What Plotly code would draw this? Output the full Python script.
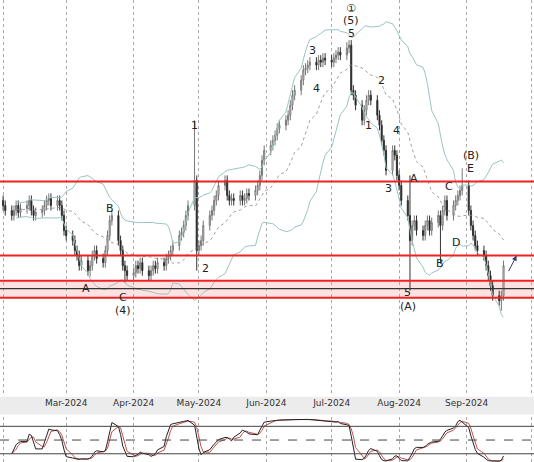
import pandas as pd
import numpy as np
import plotly.graph_objects as go
from plotly.subplots import make_subplots

# daily closes, weekdays from 2024-02-01
closes = [
    195, 190,
    185, 190, 195, 188, 192,
    195, 200, 190, 185, 188,
    190, 195, 200, 202, 195,
    200, 195, 185, 170, 165,
    160, 150, 145, 135, 140,
    130, 135, 145, 150, 142,
    138, 150, 165, 180, 185,
    160, 150, 135, 130, 125,
    128, 135, 132, 138, 130,
    125, 130, 135, 132, 138,
    135, 142, 145, 150, 155,
    165, 168, 175, 185, 195,
    220, 150, 155, 160, 175,
    185, 190, 200, 205, 215,
    220, 205, 200, 202, 200,
    205, 200, 202, 207, 205,
    210, 215, 225, 240, 250,
    255, 260, 265, 272, 275,
    280, 285, 295, 305, 310,
    320, 330, 332, 335, 338,
    335, 340, 338, 342, 340,
    338, 342, 345, 348, 345,
    352, 355, 310, 305, 295,
    280, 290, 300, 305, 300,
    285, 275, 260, 250, 230,
    250, 245, 225, 215, 200,
    185, 160, 175, 180, 170,
    165, 175, 180, 170, 178,
    185, 175, 190, 200, 185,
    195, 200, 205, 210, 215,
    190, 175, 165, 155, 150,
    145, 135, 125, 115, 105,
    100, 105, 135,
]
first_open = 200
# notable wick extremes (date -> price)
spike_highs = {"2024-04-29": 280, "2024-08-06": 225, "2024-08-30": 232, "2024-07-08": 358}
spike_lows = {"2024-04-30": 130, "2024-08-06": 110, "2024-03-12": 124, "2024-03-28": 118,
              "2024-09-17": 90, "2024-08-20": 137}

support_lines = [219, 145, 120, 103]
pivot_line = 112

labels = [
    ("2024-03-10", 112, "A"), ("2024-03-21", 192, "B"), ("2024-03-27", 103, "C"),
    ("2024-03-27", 90, "(4)"), ("2024-04-29", 275, "1"), ("2024-05-04", 132, "2"),
    ("2024-06-22", 350, "3"), ("2024-06-24", 312, "4"), ("2024-07-10", 367, "5"),
    ("2024-07-10", 380, "(5)"), ("2024-07-10", 392, "①"), ("2024-07-24", 320, "2"),
    ("2024-07-18", 275, "1"), ("2024-07-31", 270, "4"), ("2024-07-27", 212, "3"),
    ("2024-08-05", 108, "5"), ("2024-08-05", 94, "(A)"), ("2024-08-08", 222, "A"),
    ("2024-08-20", 137, "B"), ("2024-08-24", 214, "C"), ("2024-08-27", 158, "D"),
    ("2024-09-03", 232, "E"), ("2024-09-03", 245, "(B)"),
]

dates = pd.bdate_range("2024-02-01", periods=len(closes))
df = pd.DataFrame({"close": closes}, index=dates)
df["open"] = df["close"].shift(1).fillna(first_open)
df["high"] = df[["open", "close"]].max(axis=1) + 5
df["low"] = df[["open", "close"]].min(axis=1) - 5
for d, v in spike_highs.items():
    df.loc[d, "high"] = v
for d, v in spike_lows.items():
    df.loc[d, "low"] = v

mid = df["close"].rolling(20, min_periods=5).mean()
sd = df["close"].rolling(20, min_periods=5).std()
upper, lower = mid + 2 * sd, mid - 2 * sd

lo14 = df["low"].rolling(14, min_periods=3).min()
hi14 = df["high"].rolling(14, min_periods=3).max()
k = (100 * (df["close"] - lo14) / (hi14 - lo14)).rolling(3, min_periods=1).mean()
dline = k.rolling(3, min_periods=1).mean()

fig = make_subplots(rows=2, cols=1, shared_xaxes=True)

fig.add_shape(type="rect", xref="paper", yref="paper", x0=0, x1=1, y0=0.103, y1=0.141,
              fillcolor="#ececec", line_width=0, layer="below")
fig.add_shape(type="rect", xref="x domain", x0=0, x1=1, yref="y", y0=support_lines[3], y1=support_lines[2],
              fillcolor="rgba(255,120,120,0.22)", line_width=0, layer="below")
fig.add_trace(go.Scatter(x=dates, y=upper, mode="lines", line=dict(color="#9cc3c3", width=1), hoverinfo="skip"), 1, 1)
fig.add_trace(go.Scatter(x=dates, y=lower, mode="lines", line=dict(color="#9cc3c3", width=1), hoverinfo="skip"), 1, 1)
fig.add_trace(go.Scatter(x=dates, y=mid, mode="lines", line=dict(color="#888", width=0.8, dash="dot"), hoverinfo="skip"), 1, 1)
fig.add_trace(go.Candlestick(
    x=dates, open=df["open"], high=df["high"], low=df["low"], close=df["close"],
    increasing=dict(fillcolor="white", line=dict(color="#777", width=1)),
    decreasing=dict(fillcolor="black", line=dict(color="#333", width=1)),
    whiskerwidth=0), 1, 1)

for v in support_lines:
    fig.add_hline(y=v, line=dict(color="#ee2222", width=2), row=1, col=1)
fig.add_hline(y=pivot_line, line=dict(color="#333", width=1.2), row=1, col=1)

for d, p, t in labels:
    fig.add_annotation(x=d, y=p, text=t, showarrow=False, font=dict(size=11, color="#222"), row=1, col=1)
fig.add_annotation(x="2024-09-24", y=145, ax="2024-09-20", ay=128, axref="x", ayref="y",
                   showarrow=True, arrowhead=2, arrowsize=1, arrowwidth=1, text="", row=1, col=1)

fig.add_trace(go.Scatter(x=dates, y=dline, mode="lines", line=dict(color="#c0504d", width=1)), 2, 1)
fig.add_trace(go.Scatter(x=dates, y=k, mode="lines", line=dict(color="#222", width=1)), 2, 1)
for v, ds in [(80, "solid"), (50, "dash"), (20, "solid")]:
    fig.add_hline(y=v, line=dict(color="#444", width=1, dash=ds), row=2, col=1)

xr = ["2024-01-30 14:00", "2024-10-02"]
fig.update_xaxes(range=xr, showgrid=True, gridcolor="#aaa", griddash="dot", gridwidth=1,
                 dtick="M1", tick0="2024-02-01", tickformat="%b-%Y", rangeslider_visible=False,
                 showline=False, zeroline=False, automargin=False)
fig.update_xaxes(showticklabels=True, ticks="", tickfont=dict(size=9, color="#333", family="DejaVu Sans"), row=1, col=1)
fig.update_xaxes(showticklabels=False, row=2, col=1)
fig.update_yaxes(domain=[0.143, 1], range=[5, 400], showticklabels=False, showgrid=False, zeroline=False,
                 automargin=False, row=1, col=1)
fig.update_yaxes(domain=[0, 0.097], range=[2, 100], showticklabels=False, showgrid=False, zeroline=False,
                 automargin=False, row=2, col=1)
fig.update_layout(width=534, height=462, margin=dict(l=0, r=0, t=0, b=0, autoexpand=False), showlegend=False,
                  plot_bgcolor="white", paper_bgcolor="white", font=dict(family="DejaVu Sans"))
fig.write_html("out.html", config={"displayModeBar": False},
               post_script="document.body.style.margin='0';")
